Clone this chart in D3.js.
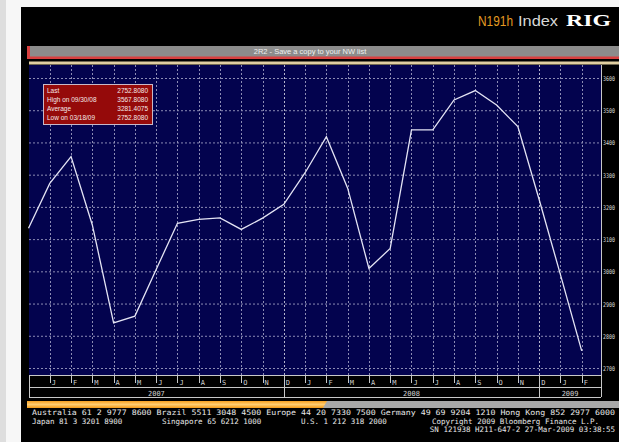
<!DOCTYPE html>
<html>
<head>
<meta charset="utf-8">
<script src="https://cdn.jsdelivr.net/npm/d3@7"></script>
<style>
  body { margin: 0; background: #dedede; }
  svg { display: block; }
</style>
</head>
<body>
<div id="chart"></div>
<script>
// monthly closes, N191h Index (RIG), Dec 2006 .. Feb 2009
var closes = [3134, 3273, 3356, 3144, 2840, 2861, 3006, 3149, 3161, 3166, 3130, 3165, 3208,
              3306, 3418, 3258, 3009, 3071, 3439, 3439, 3532, 3561, 3516, 3449, 3223, 2990, 2753];
var monthLetters = ['J', 'F', 'M', 'A', 'M', 'J', 'J', 'A', 'S', 'O', 'N', 'D'];
var yearLabels = ['2007', '2008', '2009'];
var yearBreaks = [12, 24];
var yTicks = [3600, 3500, 3400, 3300, 3200, 3100, 3000, 2900, 2800, 2700];
var legendRows = [
  ['Last', '2752.8080'],
  ['High on 09/30/08', '3567.8080'],
  ['Average', '3281.4075'],
  ['Low on 03/18/09', '2752.8080']
];
var footerLine1 = 'Australia 61 2 9777 8600 Brazil 5511 3048 4500 Europe 44 20 7330 7500 Germany 49 69 9204 1210 Hong Kong 852 2977 6000';
var footerLine2 = [['Japan 81 3 3201 8900', 32], ['Singapore 65 6212 1000', 162], ['U.S. 1 212 318 2000', 301], ['Copyright 2009 Bloomberg Finance L.P.', 432]];
var footerLine3 = 'SN 121938 H211-647-2 27-Mar-2009 03:38:55';

function drawChart() {
  var W = 619, H = 442;
  var plot = { left: 29, right: 601, top: 65, bottom: 375 };
  var mono = 'DejaVu Sans Mono, monospace';
  var narrow = 'Liberation Sans Narrow, Liberation Sans, sans-serif';

  var svg = d3.select('#chart').append('svg')
    .attr('width', W)
    .attr('height', H);

  // page frame
  svg.append('rect').attr('x', 0).attr('y', 0).attr('width', W).attr('height', H).attr('fill', '#dedede');
  svg.append('rect').attr('x', 6).attr('y', 0).attr('width', W).attr('height', H).attr('fill', '#f7f7f7');
  svg.append('rect').attr('x', 21).attr('y', 7).attr('width', W - 21).attr('height', H - 7).attr('fill', '#000');

  // title
  svg.append('text').attr('x', 478).attr('y', 26)
    .attr('fill', '#e39a22').attr('font-family', narrow).attr('font-size', 14)
    .attr('textLength', 35).attr('lengthAdjust', 'spacingAndGlyphs').text('N191h');
  svg.append('text').attr('x', 518).attr('y', 26)
    .attr('fill', '#d8d8d8').attr('font-family', narrow).attr('font-size', 14)
    .attr('textLength', 40).attr('lengthAdjust', 'spacingAndGlyphs').text('Index');
  svg.append('text').attr('x', 566).attr('y', 26)
    .attr('fill', '#fff').attr('font-family', 'Liberation Serif, serif').attr('font-weight', 'bold').attr('font-size', 16)
    .attr('textLength', 45).attr('lengthAdjust', 'spacingAndGlyphs').text('RIG');

  // gray banner
  svg.append('rect').attr('x', 27).attr('y', 46).attr('width', W - 27).attr('height', 11).attr('fill', '#8c8c8c');
  svg.append('rect').attr('x', 27).attr('y', 56.5).attr('width', W - 27).attr('height', 2.5).attr('fill', '#d84040');
  svg.append('rect').attr('x', 27).attr('y', 46).attr('width', 3).attr('height', 13).attr('fill', '#d84040');
  svg.append('text')
    .attr('x', 310).attr('y', 54)
    .attr('text-anchor', 'middle')
    .attr('fill', '#f0f0f0')
    .attr('font-family', narrow)
    .attr('font-size', 7.5)
    .text('2R2 - Save a copy to your NW list');
  svg.append('rect').attr('x', 29).attr('y', 61.5).attr('width', W - 29).attr('height', 3).attr('fill', '#e0cfa2');

  // plot area
  svg.append('rect')
    .attr('x', plot.left).attr('y', plot.top)
    .attr('width', plot.right - plot.left).attr('height', plot.bottom - plot.top)
    .attr('fill', '#03034e');

  var xScale = d3.scaleLinear().domain([0, closes.length - 1]).range([28.5, 581.7]);
  var yScale = d3.scaleLinear().domain([2700, 3600]).range([368, 78]);

  var g = svg.append('g').attr('class', 'grid');
  g.selectAll('line.h')
    .data(yTicks)
    .enter().append('line')
      .attr('class', 'h')
      .attr('x1', plot.left).attr('x2', plot.right)
      .attr('y1', function(d) { return yScale(d) + 0.5; })
      .attr('y2', function(d) { return yScale(d) + 0.5; })
      .attr('stroke', '#8c8cb4')
      .attr('stroke-dasharray', '2,2');

  var monthIdx = d3.range(1, closes.length);
  g.selectAll('line.v')
    .data(monthIdx)
    .enter().append('line')
      .attr('class', 'v')
      .attr('x1', function(d) { return Math.round(xScale(d)) + 0.5; })
      .attr('x2', function(d) { return Math.round(xScale(d)) + 0.5; })
      .attr('y1', plot.top).attr('y2', plot.bottom)
      .attr('stroke', function(d) { return yearBreaks.indexOf(d) >= 0 ? '#b4b4cc' : '#8c8cb4'; })
      .attr('stroke-dasharray', '2,2');

  // right axis labels, squeezed into the strip left of the window edge
  svg.append('line').attr('x1', plot.right + 0.5).attr('x2', plot.right + 0.5)
    .attr('y1', plot.top).attr('y2', 397).attr('stroke', '#c8c8c8');
  svg.selectAll('text.ytick')
    .data(yTicks)
    .enter().append('text')
      .attr('class', 'ytick')
      .attr('x', 603)
      .attr('y', function(d) { return yScale(d) + 3; })
      .attr('fill', '#d8d8d8')
      .attr('font-family', mono)
      .attr('font-size', 6.5)
      .attr('textLength', 12)
      .attr('lengthAdjust', 'spacingAndGlyphs')
      .text(function(d) { return d; });

  // price line
  var line = d3.line()
    .x(function(d, i) { return xScale(i); })
    .y(function(d) { return yScale(d); });
  svg.append('path')
    .datum(closes)
    .attr('d', line)
    .attr('fill', 'none')
    .attr('stroke', '#e4e4f4')
    .attr('stroke-width', 1.3);

  // legend box
  var lg = svg.append('g').attr('transform', 'translate(43,84)');
  lg.append('rect').attr('x', 0.5).attr('y', 0.5).attr('width', 109).attr('height', 40)
    .attr('fill', '#950a0a').attr('stroke', '#c8b8c8');
  legendRows.forEach(function(r, i) {
    lg.append('text').attr('x', 4).attr('y', 8.5 + i * 9)
      .attr('fill', '#f4e8e8').attr('font-family', narrow)
      .attr('font-size', 6.5).text(r[0]);
    lg.append('text').attr('x', 105).attr('y', 8.5 + i * 9)
      .attr('text-anchor', 'end')
      .attr('fill', '#f4e8e8').attr('font-family', narrow)
      .attr('font-size', 6.5).text(r[1]);
  });

  // month / year rows
  var ax = svg.append('g').attr('class', 'axis');
  ax.append('line').attr('x1', plot.left).attr('x2', plot.right).attr('y1', 375.5).attr('y2', 375.5).attr('stroke', '#c8c8c8');
  ax.append('line').attr('x1', plot.left).attr('x2', plot.right).attr('y1', 387.5).attr('y2', 387.5).attr('stroke', '#c8c8c8');
  ax.append('line').attr('x1', plot.left).attr('x2', plot.right).attr('y1', 397.5).attr('y2', 397.5).attr('stroke', '#c8c8c8');
  ax.append('line').attr('x1', plot.left + 0.5).attr('x2', plot.left + 0.5).attr('y1', 375).attr('y2', 398).attr('stroke', '#c8c8c8');
  ax.selectAll('line.mt')
    .data(monthIdx)
    .enter().append('line')
      .attr('class', 'mt')
      .attr('x1', function(d) { return Math.round(xScale(d)) + 0.5; })
      .attr('x2', function(d) { return Math.round(xScale(d)) + 0.5; })
      .attr('y1', 376)
      .attr('y2', function(d) { return yearBreaks.indexOf(d) >= 0 ? 398 : 383; })
      .attr('stroke', '#c8c8c8');
  ax.selectAll('text.mt')
    .data(monthIdx)
    .enter().append('text')
      .attr('class', 'mt')
      .attr('x', function(d) { return xScale(d) + 2; })
      .attr('y', 385)
      .attr('fill', '#d0d0d0')
      .attr('font-family', mono)
      .attr('font-size', 7)
      .text(function(d) { return monthLetters[(d - 1) % 12]; });
  var bounds = [plot.left].concat(yearBreaks.map(function(d) { return xScale(d); })).concat([plot.right]);
  ax.selectAll('text.yr')
    .data(yearLabels)
    .enter().append('text')
      .attr('class', 'yr')
      .attr('x', function(d, i) { return (bounds[i] + bounds[i + 1]) / 2; })
      .attr('y', 395.5)
      .attr('text-anchor', 'middle')
      .attr('fill', '#d0d0d0')
      .attr('font-family', mono)
      .attr('font-size', 7)
      .text(function(d) { return d; });

  // scroll bar
  var grad = svg.append('defs').append('linearGradient').attr('id', 'orange').attr('x1', 0).attr('x2', 0).attr('y1', 0).attr('y2', 1);
  grad.append('stop').attr('offset', '0%').attr('stop-color', '#f7a020');
  grad.append('stop').attr('offset', '50%').attr('stop-color', '#ffcc70');
  grad.append('stop').attr('offset', '100%').attr('stop-color', '#f39a18');
  svg.append('rect').attr('x', 27).attr('y', 401).attr('width', W - 27).attr('height', 7).attr('fill', '#a8a8a8');
  svg.append('path').attr('d', 'M27,401 L327,401 L323,408 L27,408 Z').attr('fill', 'url(#orange)');

  // footer
  var foot = svg.append('g')
    .attr('fill', '#e8e8e8')
    .attr('font-family', mono)
    .attr('font-size', 7.5);
  foot.append('text').attr('x', 32).attr('y', 415)
    .attr('textLength', 583).attr('lengthAdjust', 'spacingAndGlyphs').text(footerLine1);
  foot.selectAll('text.l2')
    .data(footerLine2)
    .enter().append('text')
      .attr('class', 'l2')
      .attr('x', function(d) { return d[1]; })
      .attr('y', 423.5)
      .text(function(d) { return d[0]; });
  foot.append('text').attr('x', 615).attr('y', 432)
    .attr('text-anchor', 'end').text(footerLine3);
}

drawChart();
</script>
</body>
</html>
